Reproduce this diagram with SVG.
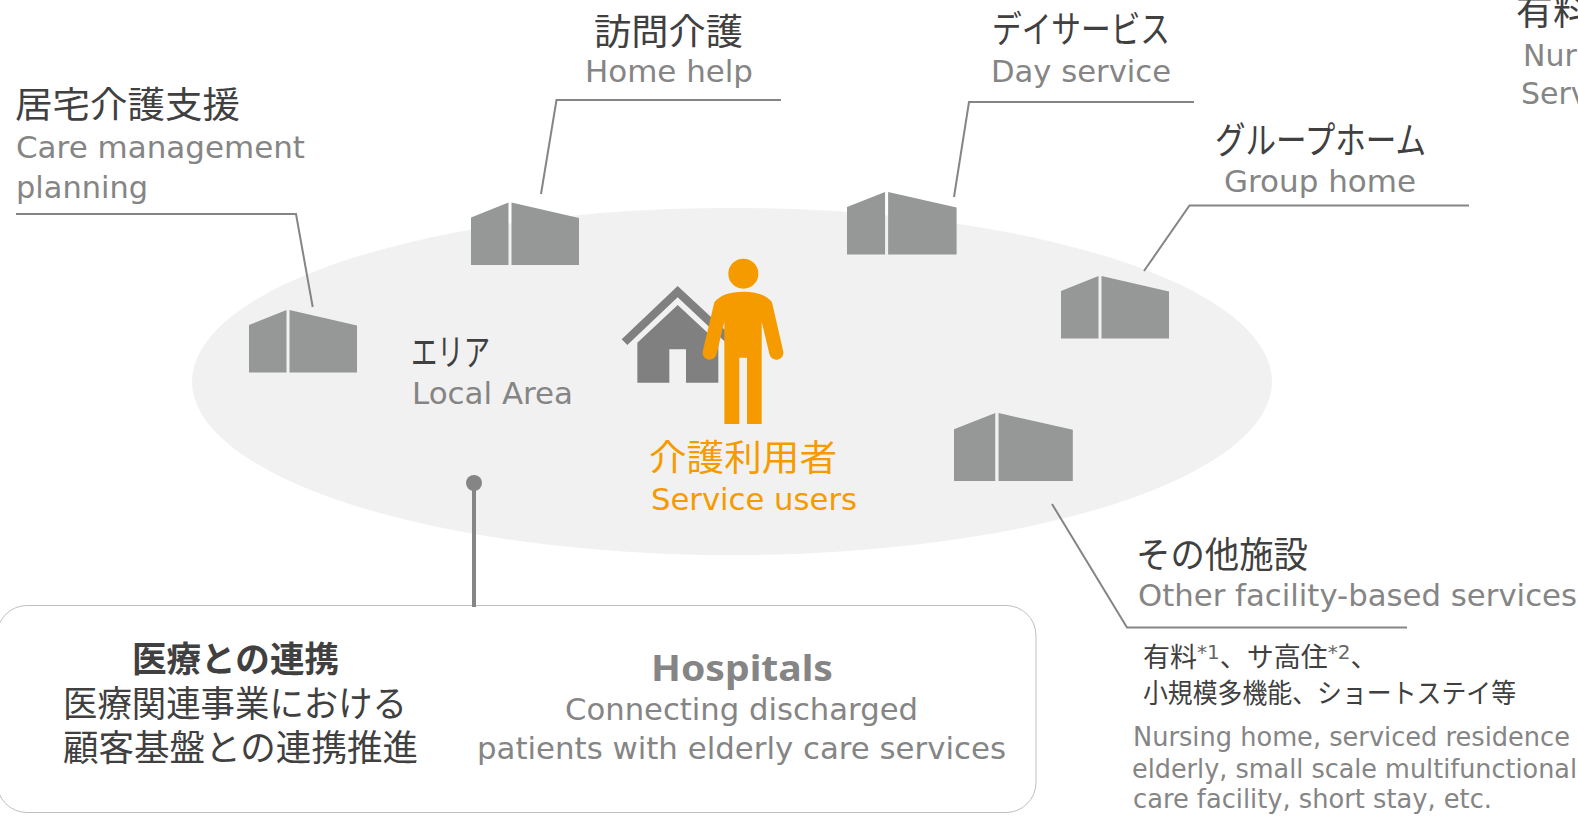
<svg xmlns="http://www.w3.org/2000/svg" width="1578" height="816" viewBox="0 0 1578 816">
<defs>
<style>
.jp{font-family:"Noto Sans CJK JP","Liberation Sans",sans-serif;fill:#404040;font-size:35px}
.k{font-size:37px}
.en{font-family:"DejaVu Sans","Liberation Sans",sans-serif;fill:#858585;font-size:30px}
.sm{font-size:26px}
.js{font-size:27px}
.b{font-weight:700}
.hb{font-family:"Noto Sans","Liberation Sans",sans-serif;font-size:36px;font-weight:700}
.sup{font-family:"DejaVu Sans","Liberation Sans",sans-serif;font-size:20px;fill:#666}
.or{fill:#F59B00}
.bl{fill:#969897}
.ln{fill:none;stroke:#858585;stroke-width:2}
</style>
<g id="bld">
<path class="bl" d="M0 15L37.500 0V62.500H0Z"/>
<path class="bl" d="M40.500 0L108 15.500V62.500H40.500Z"/>
</g>
</defs>
<rect width="1578" height="816" fill="#fff"/>
<g id="area">
<ellipse cx="732" cy="381.500" rx="540" ry="173.500" fill="#F1F1F1"/>
<text class="jp k" x="411" y="366" textLength="79" lengthAdjust="spacingAndGlyphs">エリア</text>
<text class="en" x="412" y="404" textLength="161" lengthAdjust="spacingAndGlyphs">Local Area</text>
</g>
<g id="b1"><use href="#bld" x="249" y="310"/></g>
<g id="b2"><use href="#bld" x="471" y="202.500"/></g>
<g id="b3"><use href="#bld" transform="translate(847 192) scale(1.015 1)"/></g>
<g id="b4"><use href="#bld" x="1061" y="276"/></g>
<g id="b5"><use href="#bld" transform="translate(954 413) scale(1.100 1.088)"/></g>
<g id="user">
<g transform="translate(600 240) scale(.33333)">
<path fill="#808080" d="M233 138L65 298L82 315L233 172L375 305V270Z"/>
<path fill="#808080" d="M233 195L112 308V428H208V328H258V428H355V308Z"/>
<circle class="or" cx="430" cy="101" r="45"/>
<path class="or" d="M430 155C390 155 360 165 343 187L308 335A21 21 0 0 0 350 341L373 245V552H418V353H441V552H485V245L508 341A21 21 0 0 0 550 335L516 187C500 165 470 155 430 155Z"/>
</g>
<text class="jp or" x="649" y="471" font-size="36" style="font-size:36px" textLength="188" lengthAdjust="spacingAndGlyphs">介護利用者</text>
<text class="en or" x="651" y="510" textLength="206" lengthAdjust="spacingAndGlyphs">Service users</text>
</g>
<g id="n1">
<text class="jp" style="font-size:36px" x="15" y="118" textLength="225" lengthAdjust="spacingAndGlyphs">居宅介護支援</text>
<text class="en" x="16" y="158" textLength="289" lengthAdjust="spacingAndGlyphs">Care management</text>
<text class="en" x="16" y="198" textLength="132" lengthAdjust="spacingAndGlyphs">planning</text>
</g>
<g id="n2">
<text class="jp" style="font-size:36px" x="594" y="45" textLength="149" lengthAdjust="spacingAndGlyphs">訪問介護</text>
<text class="en" x="585" y="82" textLength="168" lengthAdjust="spacingAndGlyphs">Home help</text>
</g>
<g id="n3">
<text class="jp k" x="992" y="43" textLength="178" lengthAdjust="spacingAndGlyphs">デイサービス</text>
<text class="en" x="991" y="82" textLength="180" lengthAdjust="spacingAndGlyphs">Day service</text>
</g>
<g id="n4">
<text class="jp k" x="1215" y="154" textLength="211" lengthAdjust="spacingAndGlyphs">グループホーム</text>
<text class="en" x="1224" y="192" textLength="192" lengthAdjust="spacingAndGlyphs">Group home</text>
</g>
<g id="n5">
<text class="jp k" x="1516" y="25">有料</text>
<text class="en" x="1523" y="66">Nur</text>
<text class="en" x="1521" y="104">Serv</text>
</g>
<g id="n6">
<text class="jp" style="font-size:36px" x="1136" y="568" textLength="172" lengthAdjust="spacingAndGlyphs">その他施設</text>
<text class="en" x="1138" y="606" textLength="439" lengthAdjust="spacingAndGlyphs">Other facility-based services</text>
<text class="jp js" x="1143" y="667">有料<tspan class="sup" dy="-8">*1</tspan><tspan dy="8">、サ高住</tspan><tspan class="sup" dy="-8">*2</tspan><tspan dy="8">、</tspan></text>
<text class="jp js" x="1143" y="703" textLength="373" lengthAdjust="spacingAndGlyphs">小規模多機能、ショートステイ等</text>
<text class="en sm" x="1133" y="746" textLength="437" lengthAdjust="spacingAndGlyphs">Nursing home, serviced residence</text>
<text class="en sm" x="1132" y="778" textLength="445" lengthAdjust="spacingAndGlyphs">elderly, small scale multifunctional</text>
<text class="en sm" x="1133" y="808" textLength="359" lengthAdjust="spacingAndGlyphs">care facility, short stay, etc.</text>
</g>
<g id="hospital">
<rect x="-3" y="605.500" width="1039" height="207" rx="30" fill="#fff" stroke="#BFBFBF" stroke-width="1"/>
<text class="jp b" x="132" y="672" textLength="207" lengthAdjust="spacingAndGlyphs">医療との連携</text>
<text class="jp" style="font-size:36px" x="63" y="717" textLength="344" lengthAdjust="spacingAndGlyphs">医療関連事業における</text>
<text class="jp" style="font-size:36px" x="63" y="761" textLength="355" lengthAdjust="spacingAndGlyphs">顧客基盤との連携推進</text>
<text class="en hb" x="651" y="681" textLength="182" lengthAdjust="spacingAndGlyphs">Hospitals</text>
<text class="en" x="565" y="720" textLength="353" lengthAdjust="spacingAndGlyphs">Connecting discharged</text>
<text class="en" x="477" y="759" textLength="529" lengthAdjust="spacingAndGlyphs">patients with elderly care services</text>
</g>
<g id="connectors">
<path class="ln" d="M16 214H296L312.700 307"/>
<path class="ln" d="M781 100H556.500L541 194"/>
<path class="ln" d="M1194 102H969L954 197"/>
<path class="ln" d="M1469 205.500H1189.500L1144 271"/>
<path class="ln" d="M1052 504L1127 627.500H1407"/>
<path d="M474 483V607" fill="none" stroke="#858585" stroke-width="4"/>
<circle cx="474" cy="483" r="8" fill="#858585"/>
</g>
</svg>
